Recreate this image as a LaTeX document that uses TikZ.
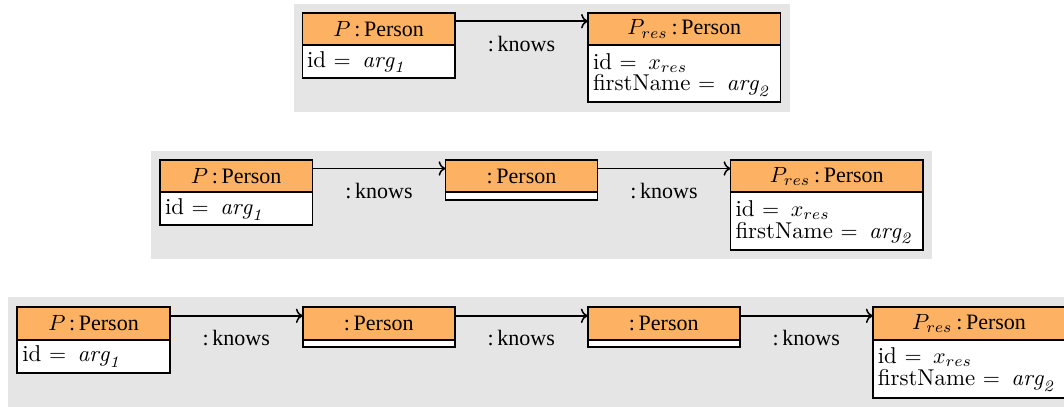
\documentclass[tikz,border=0pt]{standalone}
\usepackage{fontspec}
\newfontfamily\tms{Liberation Serif}
\usetikzlibrary{arrows.meta}
\definecolor{hdrorange}{RGB}{252,178,98}
\definecolor{panelgray}{RGB}{229,229,229}
\def\U{0.4545pt}
\tikzset{
  objbody/.style={rectangle, draw, fill=white, line width=0.9pt, inner sep=0pt, outer sep=0pt},
  objhead/.style={rectangle, draw, fill=hdrorange, line width=0.9pt, inner sep=0pt, outer sep=0pt,
    minimum height=32.3*\U, font=\tms},
  attr/.style={inner sep=0pt, outer sep=0pt, anchor=base west, text height=7pt, text depth=0.6pt,
    font=\fontsize{10.4}{12.5}\selectfont},
  conn/.style={->, line width=0.7pt},
  lbl/.style={font=\tms, inner sep=0pt},
  panelbg/.style={fill=panelgray},
}
\newcommand\objbox[6]{%
  \node[objbody, minimum width=#4*\U, minimum height=#5*\U, anchor=north west] (#1) at (#2,#3) {};
  \node[objhead, minimum width=#4*\U, anchor=north west] (#1h) at (#2,#3) {#6};
}
\newcommand\eqsgn{\ $=$~\,}
\begin{document}
\begin{tikzpicture}[x=\U, y=-\U]
\useasboundingbox (0,0) rectangle (1064,406);
\clip (0,0) rectangle (1064,406);
% panels
\fill[panelbg] (294,4) rectangle (789.5,112);
\fill[panelbg] (151,151) rectangle (931.7,259.3);
\fill[panelbg] (8.3,297.3) rectangle (1080,420);

% ---------- panel 1
\objbox{a1}{302.5}{12.7}{152.5}{65}{$P$\,:\,Person}
\node[attr] (a1l1) at (307,67) {id\eqsgn$\mathit{arg}_{\mathit{1}}$};
\objbox{b1}{588}{12.7}{192.5}{89.5}{$P_{res}$\,:\,Person}
\node[attr] (b1l1) at (593,69) {id\eqsgn$x_{res}$};
\node[attr] (b1l2) at (593,90.7) {firstName\eqsgn$\mathit{arg}_{\mathit{2}}$};
\draw[conn] ([yshift=-8.5*\U]a1h.north east) -- node[lbl, midway, yshift=-22.5*\U] {:\,knows} ([yshift=-8.5*\U]b1h.north west);

% ---------- panel 2
\objbox{a2}{160}{160}{152.5}{65}{$P$\,:\,Person}
\node[attr] (a2l1) at (165,214.3) {id\eqsgn$\mathit{arg}_{\mathit{1}}$};
\objbox{m2}{445.5}{160}{152}{40}{:\,Person}
\objbox{b2}{730.5}{160}{192.5}{90}{$P_{res}$\,:\,Person}
\node[attr] (b2l1) at (735.5,216.3) {id\eqsgn$x_{res}$};
\node[attr] (b2l2) at (735.5,238) {firstName\eqsgn$\mathit{arg}_{\mathit{2}}$};
\draw[conn] ([yshift=-8.5*\U]a2h.north east) -- node[lbl, midway, yshift=-22.5*\U] {:\,knows} ([yshift=-8.5*\U]m2h.north west);
\draw[conn] ([yshift=-8.5*\U]m2h.north east) -- node[lbl, midway, yshift=-22.5*\U] {:\,knows} ([yshift=-8.5*\U]b2h.north west);

% ---------- panel 3
\objbox{a3}{17.3}{307.3}{152.5}{65.3}{$P$\,:\,Person}
\node[attr] (a3l1) at (22.3,361.6) {id\eqsgn$\mathit{arg}_{\mathit{1}}$};
\objbox{m3a}{302.8}{307.3}{152}{40}{:\,Person}
\objbox{m3b}{587.8}{307.3}{152}{40}{:\,Person}
\objbox{b3}{872.8}{307.3}{192.5}{90.3}{$P_{res}$\,:\,Person}
\node[attr] (b3l1) at (877.8,363.6) {id\eqsgn$x_{res}$};
\node[attr] (b3l2) at (877.8,385.3) {firstName\eqsgn$\mathit{arg}_{\mathit{2}}$};
\draw[conn] ([yshift=-8.5*\U]a3h.north east) -- node[lbl, midway, yshift=-22.5*\U] {:\,knows} ([yshift=-8.5*\U]m3ah.north west);
\draw[conn] ([yshift=-8.5*\U]m3ah.north east) -- node[lbl, midway, yshift=-22.5*\U] {:\,knows} ([yshift=-8.5*\U]m3bh.north west);
\draw[conn] ([yshift=-8.5*\U]m3bh.north east) -- node[lbl, midway, yshift=-22.5*\U] {:\,knows} ([yshift=-8.5*\U]b3h.north west);
\end{tikzpicture}
\end{document}
